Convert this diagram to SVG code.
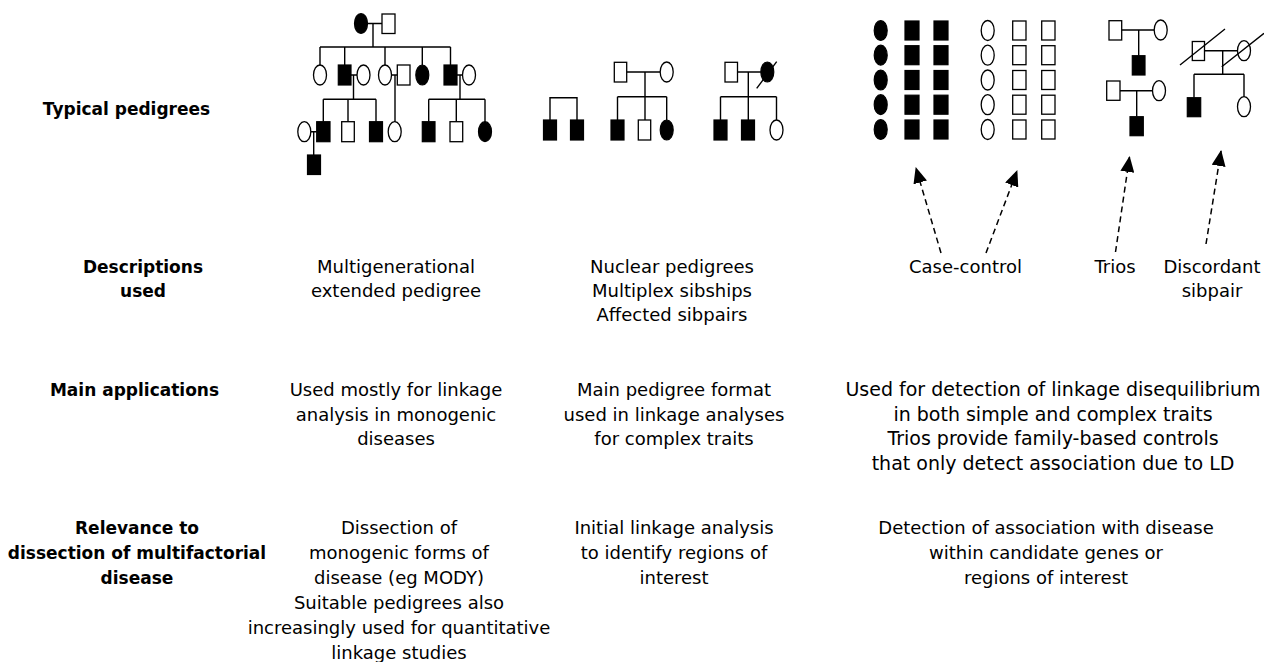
<svg xmlns="http://www.w3.org/2000/svg" width="1264" height="662" viewBox="0 0 1264 662">
  <style>
    text { font-family: "DejaVu Sans", "Liberation Sans", sans-serif; font-size: 18px; fill: #000; text-anchor: middle; }
    .lbl { font-weight: bold; font-size: 17px; }
    .big { font-size: 19px; }
    .ln { stroke: #000; stroke-width: 1.4; fill: none; }
    .f { fill: #000; stroke: #000; stroke-width: 1.2; }
    .o { fill: #fff; stroke: #000; stroke-width: 1.3; }
    .dash { stroke: #000; stroke-width: 1.5; stroke-dasharray: 6 4; fill: none; }
  </style>
  <defs>
    <marker id="head" viewBox="0 0 16 14" refX="15" refY="7" markerWidth="16" markerHeight="14" markerUnits="userSpaceOnUse" orient="auto">
      <path d="M0,0 L16,7 L0,14 Z" fill="#000"/>
    </marker>
  </defs>
  <rect width="1264" height="662" fill="#fff"/>

  <!-- row labels -->
  <g id="row-labels">
    <text class="lbl" x="126.5" y="115">Typical pedigrees</text>
    <text class="lbl" x="143" y="273">Descriptions</text>
    <text class="lbl" x="143" y="297">used</text>
    <text class="lbl" x="134.5" y="396">Main applications</text>
    <text class="lbl" x="137" y="534">Relevance to</text>
    <text class="lbl" x="137" y="559">dissection of multifactorial</text>
    <text class="lbl" x="137" y="584">disease</text>
  </g>

  <!-- multigenerational extended pedigree -->
  <g id="ped-multigen">
    <g class="ln">
      <path d="M367.5,23.5 H382 M373,23.5 V47 M320,47 H450.5"/>
      <path d="M320,47 V65 M344.7,47 V65 M385,47 V65 M422.3,47 V65 M450.5,47 V65"/>
      <path d="M351,75 H357 M391.5,75 H397.3 M457,75 H462.5"/>
      <path d="M353.5,75 V99.3 M323.3,99.3 H376 M323.3,99.3 V121.7 M348,99.3 V121.7 M376,99.3 V121.7"/>
      <path d="M395,75 V121.7"/>
      <path d="M460,75 V99.3 M428.7,99.3 H485 M428.7,99.3 V121.7 M456.3,99.3 V121.7 M485,99.3 V121.7"/>
      <path d="M310.8,131.7 H316.7 M313.7,131.7 V155"/>
    </g>
    <ellipse class="f" cx="361" cy="23.5" rx="6.5" ry="10"/>
    <rect class="o" x="382" y="14" width="13" height="19.5"/>
    <ellipse class="o" cx="320" cy="75" rx="6.5" ry="10"/>
    <rect class="f" x="338.3" y="65" width="12.7" height="20"/>
    <ellipse class="o" cx="363.5" cy="75" rx="6.5" ry="10"/>
    <ellipse class="o" cx="385" cy="75" rx="6.5" ry="10"/>
    <rect class="o" x="397.3" y="65" width="12.7" height="20"/>
    <ellipse class="f" cx="422.3" cy="75" rx="6.5" ry="10"/>
    <rect class="f" x="444" y="65" width="13" height="20"/>
    <ellipse class="o" cx="469" cy="75" rx="6.5" ry="10"/>
    <ellipse class="o" cx="304.3" cy="131.7" rx="6.5" ry="10"/>
    <rect class="f" x="316.7" y="121.7" width="13.3" height="20"/>
    <rect class="o" x="341.7" y="121.7" width="12.6" height="20"/>
    <rect class="f" x="369.5" y="121.7" width="13" height="20"/>
    <ellipse class="o" cx="394.7" cy="131.7" rx="6.5" ry="10"/>
    <rect class="f" x="422.3" y="121.7" width="12.7" height="20"/>
    <rect class="o" x="450" y="121.7" width="12.7" height="20"/>
    <ellipse class="f" cx="485" cy="131.7" rx="6.5" ry="10"/>
    <rect class="f" x="307.5" y="155" width="13" height="19.5"/>
  </g>

  <!-- affected sibpair -->
  <g id="ped-sibpair">
    <path class="ln" d="M550,120 V97.7 H577 V120"/>
    <rect class="f" x="543.5" y="120" width="13" height="20"/>
    <rect class="f" x="570.5" y="120" width="13" height="20"/>
  </g>

  <!-- nuclear pedigree -->
  <g id="ped-nuclear">
    <path class="ln" d="M626.7,72 H660.2 M645,72 V120 M617.5,96.7 H666.7 M617.5,96.7 V120 M666.7,96.7 V120"/>
    <rect class="o" x="614.3" y="62.3" width="12.4" height="19.7"/>
    <ellipse class="o" cx="666.7" cy="72" rx="6.5" ry="10"/>
    <rect class="f" x="611" y="120" width="13" height="20"/>
    <rect class="o" x="638.3" y="120" width="12.4" height="20"/>
    <ellipse class="f" cx="666.7" cy="130" rx="6.5" ry="10"/>
  </g>

  <!-- multiplex sibship with deceased parent -->
  <g id="ped-multiplex">
    <path class="ln" d="M737.5,72 H760.8 M748.3,72 V120 M720.5,96.7 H776.5 M720.5,96.7 V120 M776.5,96.7 V120"/>
    <rect class="o" x="725" y="62.3" width="12.5" height="19.7"/>
    <ellipse class="f" cx="767.3" cy="72" rx="6.5" ry="10"/>
    <path class="ln" d="M756.7,88.3 L776.7,61.7"/>
    <rect class="f" x="714" y="120" width="13" height="20"/>
    <rect class="f" x="741.5" y="120" width="13" height="20"/>
    <ellipse class="o" cx="776.5" cy="130" rx="6.5" ry="10"/>
  </g>

  <!-- case-control samples -->
  <g id="cases">
    <ellipse class="f" cx="880.7" cy="30.5" rx="6.5" ry="10"/>
    <ellipse class="f" cx="880.7" cy="55.2" rx="6.5" ry="10"/>
    <ellipse class="f" cx="880.7" cy="80" rx="6.5" ry="10"/>
    <ellipse class="f" cx="880.7" cy="104.7" rx="6.5" ry="10"/>
    <ellipse class="f" cx="880.7" cy="129.5" rx="6.5" ry="10"/>
    <rect class="f" x="905" y="21" width="14" height="19"/>
    <rect class="f" x="905" y="45.7" width="14" height="19"/>
    <rect class="f" x="905" y="70.5" width="14" height="19"/>
    <rect class="f" x="905" y="95.2" width="14" height="19"/>
    <rect class="f" x="905" y="120" width="14" height="19"/>
    <rect class="f" x="934" y="21" width="14" height="19"/>
    <rect class="f" x="934" y="45.7" width="14" height="19"/>
    <rect class="f" x="934" y="70.5" width="14" height="19"/>
    <rect class="f" x="934" y="95.2" width="14" height="19"/>
    <rect class="f" x="934" y="120" width="14" height="19"/>
  </g>
  <g id="controls">
    <ellipse class="o" cx="987.7" cy="30.5" rx="6.5" ry="10"/>
    <ellipse class="o" cx="987.7" cy="55.2" rx="6.5" ry="10"/>
    <ellipse class="o" cx="987.7" cy="80" rx="6.5" ry="10"/>
    <ellipse class="o" cx="987.7" cy="104.7" rx="6.5" ry="10"/>
    <ellipse class="o" cx="987.7" cy="129.5" rx="6.5" ry="10"/>
    <rect class="o" x="1012.7" y="21" width="13.3" height="19"/>
    <rect class="o" x="1012.7" y="45.7" width="13.3" height="19"/>
    <rect class="o" x="1012.7" y="70.5" width="13.3" height="19"/>
    <rect class="o" x="1012.7" y="95.2" width="13.3" height="19"/>
    <rect class="o" x="1012.7" y="120" width="13.3" height="19"/>
    <rect class="o" x="1041.7" y="21" width="13.3" height="19"/>
    <rect class="o" x="1041.7" y="45.7" width="13.3" height="19"/>
    <rect class="o" x="1041.7" y="70.5" width="13.3" height="19"/>
    <rect class="o" x="1041.7" y="95.2" width="13.3" height="19"/>
    <rect class="o" x="1041.7" y="120" width="13.3" height="19"/>
  </g>

  <!-- trios -->
  <g id="trio-1">
    <path class="ln" d="M1121.7,30 H1154.2 M1138.7,30 V55.7"/>
    <rect class="o" x="1109" y="20.7" width="12.7" height="19.3"/>
    <ellipse class="o" cx="1160.7" cy="30" rx="6.5" ry="10"/>
    <rect class="f" x="1132.3" y="55.7" width="12.7" height="19.3"/>
  </g>
  <g id="trio-2">
    <path class="ln" d="M1120,90.7 H1152.5 M1136.7,90.7 V116.7"/>
    <rect class="o" x="1106.7" y="81" width="13.3" height="19.3"/>
    <ellipse class="o" cx="1159" cy="90.7" rx="6.5" ry="10"/>
    <rect class="f" x="1130" y="116.7" width="13.3" height="19"/>
  </g>

  <!-- discordant sibpair with deceased parents -->
  <g id="ped-discordant">
    <path class="ln" d="M1204.5,50.7 H1237.5 M1222.7,50.7 V74.3 M1194,74.3 H1244 M1194,74.3 V97.7 M1244,74.3 V96.7"/>
    <rect class="o" x="1192.3" y="41.5" width="12.2" height="19"/>
    <ellipse class="o" cx="1244" cy="50.7" rx="6.5" ry="10"/>
    <path class="ln" d="M1180,65 L1225,29 M1221.7,66.7 L1264,33.3"/>
    <rect class="f" x="1187.3" y="97.7" width="13.4" height="19"/>
    <ellipse class="o" cx="1244" cy="106.7" rx="6.5" ry="10"/>
  </g>

  <!-- dashed pointers from study designs to their samples -->
  <g id="connectors">
    <line class="dash" x1="941" y1="253" x2="916" y2="168" marker-end="url(#head)"/>
    <line class="dash" x1="986" y1="253" x2="1017" y2="171" marker-end="url(#head)"/>
    <line class="dash" x1="1115.5" y1="252" x2="1129.5" y2="157" marker-end="url(#head)"/>
    <line class="dash" x1="1206" y1="244" x2="1221" y2="151" marker-end="url(#head)"/>
  </g>

  <!-- descriptions -->
  <g id="descriptions">
    <text x="396" y="273">Multigenerational</text>
    <text x="396" y="297">extended pedigree</text>
    <text x="672" y="273">Nuclear pedigrees</text>
    <text x="672" y="297">Multiplex sibships</text>
    <text x="672" y="321">Affected sibpairs</text>
    <text x="965.5" y="273">Case-control</text>
    <text x="1115" y="273">Trios</text>
    <text x="1212" y="273">Discordant</text>
    <text x="1212" y="297">sibpair</text>
  </g>

  <!-- main applications -->
  <g id="applications">
    <text x="396" y="396">Used mostly for linkage</text>
    <text x="396" y="420.7">analysis in monogenic</text>
    <text x="396" y="445.4">diseases</text>
    <text x="674" y="396">Main pedigree format</text>
    <text x="674" y="420.7">used in linkage analyses</text>
    <text x="674" y="445.4">for complex traits</text>
    <text class="big" x="1053" y="396">Used for detection of linkage disequilibrium</text>
    <text class="big" x="1053" y="420.7">in both simple and complex traits</text>
    <text class="big" x="1053" y="445.4">Trios provide family-based controls</text>
    <text class="big" x="1053" y="470.1">that only detect association due to LD</text>
  </g>

  <!-- relevance to multifactorial disease -->
  <g id="relevance">
    <text x="399" y="534">Dissection of</text>
    <text x="399" y="559">monogenic forms of</text>
    <text x="399" y="584">disease (eg MODY)</text>
    <text x="399" y="609">Suitable pedigrees also</text>
    <text x="399" y="634">increasingly used for quantitative</text>
    <text x="399" y="659">linkage studies</text>
    <text x="674" y="534">Initial linkage analysis</text>
    <text x="674" y="559">to identify regions of</text>
    <text x="674" y="584">interest</text>
    <text x="1046" y="534">Detection of association with disease</text>
    <text x="1046" y="559">within candidate genes or</text>
    <text x="1046" y="584">regions of interest</text>
  </g>
</svg>
